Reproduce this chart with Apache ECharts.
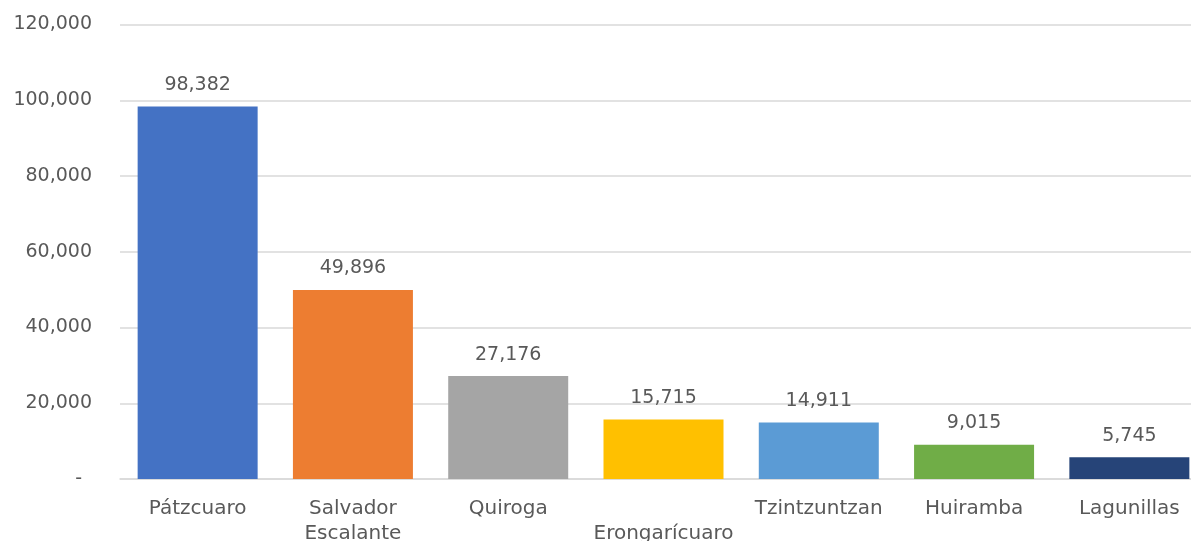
<!DOCTYPE html>
<html>
<head>
<meta charset="utf-8">
<script src="https://cdn.jsdelivr.net/npm/echarts@6/dist/echarts.min.js"></script>
<style>
  html, body { margin: 0; padding: 0; background: #ffffff; overflow: hidden; }
  #chart { width: 1191px; height: 541px; }
</style>
</head>
<body>
<div id="chart"></div>
<script>
// Municipalities and their population
const categories = ['Pátzcuaro', 'Salvador\nEscalante', 'Quiroga', 'Erongarícuaro', 'Tzintzuntzan', 'Huiramba', 'Lagunillas'];
const values = [98382, 49896, 27176, 15715, 14911, 9015, 5745];
const barColors = ['#4472C4', '#ED7D31', '#A5A5A5', '#FFC000', '#5B9BD5', '#70AD47', '#264478'];
const yTicks = { min: 0, max: 120000, interval: 20000 };

const FONT = 'DejaVu Sans';
const TEXT = '#595959';
const fmt = v => v.toLocaleString('en-US');

const chart = echarts.init(document.getElementById('chart'));
chart.setOption({
  animation: false,
  backgroundColor: '#ffffff',
  grid: { left: 120, top: 24.5, right: -16, bottom: 62, containLabel: false, outerBoundsMode: 'none' },
  xAxis: {
    type: 'category',
    data: categories,
    axisLine: { lineStyle: { color: '#d9d9d9', width: 1.5 } },
    axisTick: { show: false },
    axisLabel: {
      interval: 0,
      margin: 17,
      color: TEXT,
      fontFamily: FONT,
      fontSize: 20,
      lineHeight: 25,
      formatter: v => v === 'Erongarícuaro' ? '\n' + v : v
    }
  },
  yAxis: {
    type: 'value',
    min: yTicks.min,
    max: yTicks.max,
    interval: yTicks.interval,
    axisLine: { show: false },
    axisTick: { show: false },
    splitLine: { lineStyle: { color: '#d9d9d9', width: 1.5 } },
    axisLabel: {
      margin: 28,
      color: TEXT,
      fontFamily: FONT,
      fontSize: 19,
      formatter: v => v === 0 ? '{d|-}' : fmt(v),
      rich: { d: { color: TEXT, fontFamily: FONT, fontSize: 19, padding: [0, 10, 0, 0] } }
    }
  },
  series: [{
    type: 'bar',
    barWidth: 120,
    data: values.map((v, i) => ({ value: v, itemStyle: { color: barColors[i] } })),
    label: {
      show: true,
      position: 'top',
      distance: 12,
      color: TEXT,
      fontFamily: FONT,
      fontSize: 19,
      formatter: p => fmt(p.value)
    }
  }]
});
</script>
</body>
</html>
